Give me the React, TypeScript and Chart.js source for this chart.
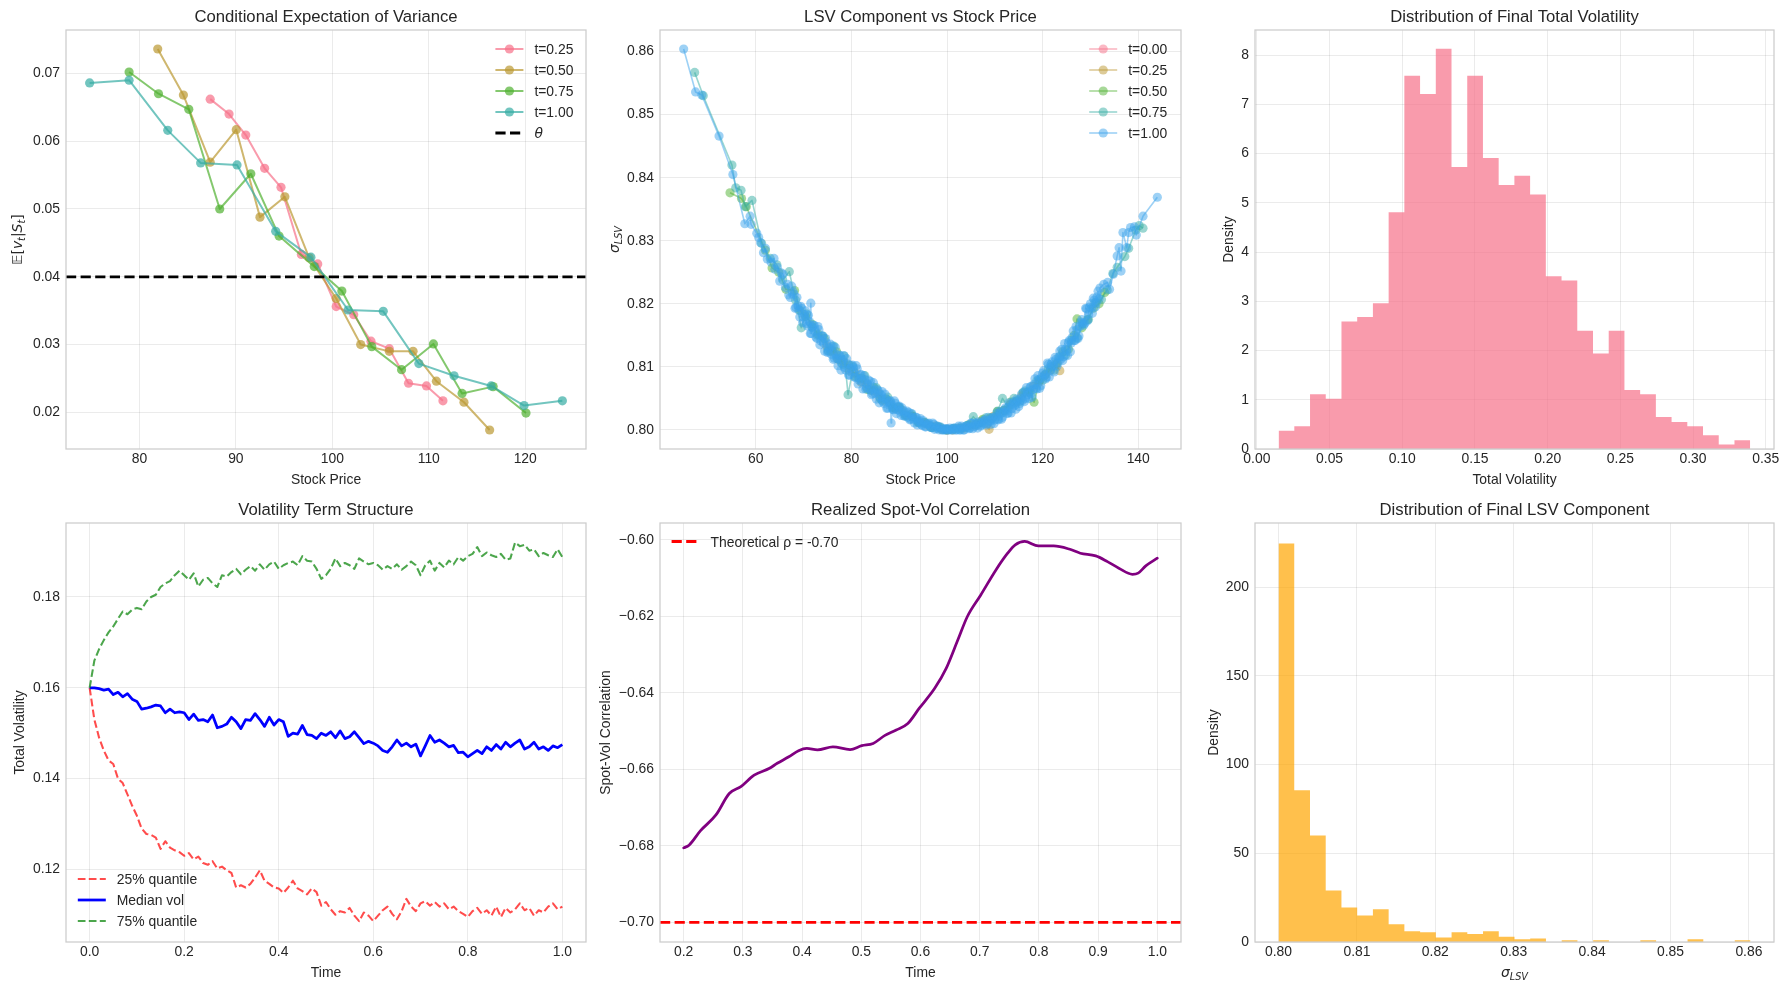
import React, { useEffect, useRef } from 'react';
import { Chart, registerables } from 'chart.js';

Chart.register(...registerables);

// ---------- shared styling ----------
const FONT = "'Liberation Sans', Arial, sans-serif";
const MATH_FONT = "'DejaVu Sans', sans-serif";
const TEXT = '#262626';
const GRID = 'rgba(0,0,0,0.08)';
const SPINE = '#cccccc';
const TICK_SIZE = 13.9;
const TITLE_SIZE = 16.7;
const PALETTE = ['#f77189', '#bb9832', '#50b131', '#36ada4', '#3ba3ec'];

// margins of every canvas around its plotting area
const ML = 66;
const MT = 30;
const MR = 14;
const MB = 46;

// ---------- Conditional expectation of variance: [stock price, E[v|S]] ----------
const COND_T025 = [[87.34, 0.0662], [89.29, 0.064], [91.03, 0.0609], [92.98, 0.056], [94.68, 0.0532], [96.79, 0.0433], [98.49, 0.0419], [100.4, 0.0356], [102.22, 0.0344], [104.01, 0.0305], [105.91, 0.0294], [107.9, 0.0243], [109.76, 0.0239], [111.47, 0.0217]];
const COND_T050 = [[81.9, 0.0736], [84.56, 0.0668], [87.34, 0.0569], [90.04, 0.0617], [92.5, 0.0488], [95.08, 0.0518], [97.6, 0.0428], [100.4, 0.0368], [102.94, 0.03], [105.91, 0.029], [108.37, 0.029], [110.79, 0.0246], [113.65, 0.0215], [116.31, 0.0174]];
const COND_T075 = [[78.93, 0.0702], [81.98, 0.067], [85.12, 0.0647], [88.33, 0.05], [91.55, 0.0552], [94.48, 0.046], [98.13, 0.0415], [100.99, 0.0379], [104.09, 0.0297], [107.18, 0.0263], [110.48, 0.0301], [113.45, 0.0228], [116.67, 0.0238], [120.08, 0.0199]];
const COND_T100 = [[74.84, 0.0686], [78.93, 0.069], [82.94, 0.0616], [86.35, 0.0568], [90.12, 0.0565], [94.13, 0.0467], [97.78, 0.0429], [101.63, 0.0351], [105.28, 0.0349], [108.97, 0.0272], [112.62, 0.0254], [116.47, 0.0239], [119.88, 0.021], [123.85, 0.0217]];
const COND_LABELS = ['t=0.25', 't=0.50', 't=0.75', 't=1.00'];
const THETA = 0.04;

// ---------- LSV component vs stock price: [stock price, sigma_LSV] ----------
const LSV_T000 = [[100.0, 0.8]];
const LSV_T025 = [[74.8, 0.8133], [76.0, 0.8125], [77.2, 0.8112], [78.4, 0.8107], [79.6, 0.8094], [80.8, 0.809], [82.0, 0.8076], [83.2, 0.8073], [84.4, 0.8062], [85.6, 0.8058], [86.8, 0.8047], [88.0, 0.8044], [89.2, 0.8034], [90.4, 0.8032], [91.6, 0.8023], [92.8, 0.8021], [94.0, 0.8013], [95.2, 0.8012], [96.4, 0.8006], [97.6, 0.8006], [98.8, 0.8001], [100.0, 0.8001], [101.2, 0.8], [102.4, 0.8003], [103.6, 0.8003], [104.8, 0.8008], [106.0, 0.8008], [107.2, 0.8014], [108.8, 0.8001], [109.6, 0.8021], [110.8, 0.8027], [112.0, 0.8031], [113.2, 0.804], [114.4, 0.8044], [115.6, 0.8054], [116.8, 0.806], [118.0, 0.8069], [119.2, 0.8076], [120.4, 0.8086], [121.6, 0.8095], [122.8, 0.8103], [123.6, 0.8094]];
const LSV_T050 = [[54.6, 0.8376], [57.0, 0.8367], [58.0, 0.8354], [62.0, 0.8285], [63.4, 0.8257], [64.8, 0.825], [66.3, 0.8223], [68.1, 0.8221], [69.2, 0.819], [70.4, 0.818], [71.7, 0.8168], [73.0, 0.8152], [74.3, 0.8145], [75.6, 0.8125], [76.9, 0.8124], [78.2, 0.8104], [79.5, 0.8103], [80.8, 0.8085], [82.1, 0.8082], [83.4, 0.8064], [84.7, 0.8067], [86.0, 0.805], [87.3, 0.8049], [88.6, 0.8036], [89.9, 0.8036], [91.3, 0.8024], [92.7, 0.8022], [94.1, 0.8012], [95.5, 0.8011], [97.0, 0.8004], [98.5, 0.8004], [100.0, 0.8], [101.5, 0.8002], [103.0, 0.8003], [104.5, 0.8008], [106.0, 0.8009], [107.5, 0.8017], [109.0, 0.8019], [110.5, 0.8029], [111.9, 0.8031], [113.3, 0.8044], [114.6, 0.8046], [115.9, 0.8059], [117.2, 0.806], [118.2, 0.8044], [119.4, 0.8079], [120.6, 0.8088], [121.8, 0.81], [123.0, 0.8106], [124.2, 0.8124], [125.4, 0.8128], [126.6, 0.815], [127.2, 0.8176], [128.2, 0.8162], [129.4, 0.8175], [130.6, 0.8193], [131.8, 0.82], [133.0, 0.8218]];
const LSV_T075 = [[47.2, 0.8567], [49.0, 0.853], [55.0, 0.842], [55.8, 0.8384], [56.9, 0.838], [57.8, 0.8354], [59.2, 0.8364], [61.2, 0.8296], [63.0, 0.8272], [64.4, 0.8262], [65.6, 0.8238], [67.0, 0.8251], [68.3, 0.8206], [69.5, 0.8162], [70.6, 0.8184], [71.8, 0.8163], [72.9, 0.815], [74.0, 0.8149], [75.1, 0.8126], [76.3, 0.8133], [77.4, 0.8112], [78.5, 0.8117], [79.3, 0.8056], [80.4, 0.81], [81.6, 0.8082], [82.8, 0.8086], [84.0, 0.8063], [85.2, 0.8067], [86.4, 0.8047], [87.6, 0.8052], [88.8, 0.8035], [90.0, 0.8036], [91.3, 0.8022], [92.6, 0.8025], [93.9, 0.8012], [95.3, 0.8012], [96.7, 0.8004], [98.2, 0.8005], [99.7, 0.8], [101.2, 0.8002], [102.7, 0.8002], [104.2, 0.8007], [105.5, 0.8021], [106.8, 0.8011], [108.1, 0.8019], [109.4, 0.8018], [110.6, 0.803], [111.6, 0.805], [112.8, 0.8036], [114.0, 0.805], [115.2, 0.8045], [116.4, 0.8062], [117.6, 0.8058], [118.8, 0.8078], [120.0, 0.8079], [121.2, 0.8097], [122.4, 0.8095], [123.6, 0.8116], [124.8, 0.8119], [126.0, 0.8142], [127.2, 0.8146], [128.4, 0.8168], [129.6, 0.8175], [131.0, 0.8202], [132.3, 0.8207], [133.5, 0.8222], [134.7, 0.8248], [135.6, 0.8258], [137.2, 0.8275], [138.0, 0.8288], [139.5, 0.8317], [140.2, 0.8324], [141.0, 0.832]];
// t=1.00 samples, first set
const LSV_T100_A = [
  [44.9, 0.8604], [47.4, 0.8536], [48.7, 0.8531], [52.3, 0.8466], [55.2, 0.8405], [57.7, 0.8327], [58.8, 0.8339], [59.0, 0.8326],
  [60.2, 0.8312], [60.6, 0.8305], [61.0, 0.8297], [61.6, 0.8281], [62.0, 0.8288], [62.4, 0.8271], [63.2, 0.8266], [63.8, 0.8272],
  [64.0, 0.8255], [64.5, 0.8258], [65.0, 0.8236], [65.3, 0.8249], [65.7, 0.8247], [66.2, 0.8226], [66.6, 0.8231], [66.9, 0.8214],
  [67.2, 0.821], [67.5, 0.8228], [67.8, 0.8219],
  [68.0, 0.8215], [68.4, 0.8194], [68.8, 0.8197], [69.2, 0.8179], [69.6, 0.8193], [70.0, 0.8179], [70.4, 0.8189], [70.8, 0.8165],
  [71.2, 0.8172], [71.5, 0.8201], [71.6, 0.8153], [72.0, 0.8166], [72.4, 0.8156], [72.8, 0.8145], [73.2, 0.8159], [73.6, 0.8141],
  [74.0, 0.8149], [74.4, 0.8125], [74.8, 0.8138], [75.2, 0.8124], [75.6, 0.8136], [76.0, 0.8133], [76.4, 0.8114], [76.8, 0.8119],
  [77.2, 0.8102], [77.6, 0.8118], [78.0, 0.8106], [78.4, 0.8118], [78.8, 0.8095], [79.2, 0.8105], [79.6, 0.8087], [80.0, 0.8102],
  [80.4, 0.8093], [80.8, 0.8083], [81.2, 0.8097], [81.6, 0.8079], [82.0, 0.8088], [82.4, 0.8065], [82.8, 0.808], [83.2, 0.8067],
  [83.6, 0.8079], [84.0, 0.8077], [84.4, 0.8058], [84.8, 0.8063], [85.2, 0.8049], [85.6, 0.8062], [86.0, 0.8052], [86.4, 0.8061],
  [86.8, 0.8042], [87.2, 0.8049], [87.6, 0.8035], [88.0, 0.8046], [88.3, 0.8011], [88.4, 0.8039], [88.8, 0.8032], [89.2, 0.8042],
  [89.6, 0.8032], [90.0, 0.8038], [90.4, 0.8023], [90.8, 0.8031], [91.2, 0.8023], [91.6, 0.803], [92.0, 0.8028], [92.4, 0.8017],
  [92.8, 0.802], [93.2, 0.8011], [93.6, 0.802], [94.0, 0.8013], [94.4, 0.8018], [94.8, 0.8007], [95.2, 0.8011], [95.6, 0.8005],
  [96.0, 0.801], [96.4, 0.8007], [96.8, 0.8004], [97.2, 0.8009], [97.6, 0.8003], [98.0, 0.8006], [98.4, 0.8], [98.8, 0.8003],
  [99.2, 0.8], [99.6, 0.8002], [100.0, 0.8002], [100.4, 0.8], [100.8, 0.8001], [101.2, 0.8], [101.6, 0.8003], [102.0, 0.8],
  [102.4, 0.8006], [102.8, 0.8], [103.2, 0.8004], [103.6, 0.8], [104.0, 0.8006], [104.4, 0.8004], [104.8, 0.8003], [105.2, 0.8011],
  [105.6, 0.8005], [106.0, 0.8011], [106.4, 0.8003], [106.8, 0.8011], [107.2, 0.8008], [107.6, 0.8015], [108.0, 0.8016], [108.4, 0.801],
  [108.8, 0.8015], [109.2, 0.8009], [109.6, 0.802], [110.0, 0.8016], [110.4, 0.8026], [110.8, 0.8016], [111.2, 0.8026], [111.6, 0.802],
  [112.0, 0.8032], [112.4, 0.803], [112.8, 0.8027], [113.2, 0.8041], [113.6, 0.8034], [114.0, 0.8045], [114.4, 0.8033], [114.8, 0.8046],
  [115.2, 0.8042], [115.6, 0.8057], [116.0, 0.806], [116.4, 0.805], [116.8, 0.8059], [117.2, 0.805], [117.6, 0.8069], [118.0, 0.8064],
  [118.4, 0.8081], [118.8, 0.8065], [119.2, 0.808], [119.6, 0.807], [120.0, 0.809], [120.4, 0.8087], [120.8, 0.8083], [121.2, 0.8104],
  [121.6, 0.8094], [122.0, 0.8108], [122.4, 0.8092], [122.8, 0.8112], [123.2, 0.8106], [123.6, 0.8125], [124.0, 0.8128], [124.4, 0.8116],
  [124.8, 0.8128], [125.2, 0.8118], [125.6, 0.8142], [126.0, 0.8138], [126.4, 0.8157], [126.8, 0.8142], [127.2, 0.8159], [127.6, 0.8149],
  [128.0, 0.8171], [128.4, 0.817], [128.8, 0.8169], [129.2, 0.8192], [129.6, 0.8183], [130.0, 0.82], [130.4, 0.8185], [130.8, 0.8206],
  [131.2, 0.8201], [131.6, 0.822], [132.0, 0.8225],
  [132.8, 0.8231], [133.6, 0.8234], [134.0, 0.8223], [134.8, 0.8247], [135.6, 0.8276], [136.0, 0.8289], [136.4, 0.8252], [136.8, 0.8313],
  [137.6, 0.8289], [138.0, 0.8313], [138.4, 0.8321], [139.2, 0.8322], [139.6, 0.8309], [141.0, 0.8339], [144.0, 0.8369],
];
// t=1.00 samples, second set (in between the first)
const LSV_T100_B = [
  [68.2, 0.8193], [68.6, 0.821], [69.0, 0.819], [69.4, 0.8196], [69.8, 0.817], [70.2, 0.8183], [70.6, 0.8169], [71.0, 0.8182],
  [71.4, 0.8153], [71.8, 0.8163], [72.2, 0.8166], [72.6, 0.8147], [73.0, 0.8164], [73.4, 0.8135], [73.8, 0.8149], [74.2, 0.8138],
  [74.6, 0.8145], [75.0, 0.8123], [75.4, 0.813], [75.8, 0.812], [76.2, 0.8112], [76.6, 0.8131], [77.0, 0.8113], [77.4, 0.8119],
  [77.8, 0.8095], [78.2, 0.8111], [78.6, 0.8099], [79.0, 0.8113], [79.4, 0.8087], [79.8, 0.8098], [80.2, 0.8103], [80.6, 0.8084],
  [81.0, 0.8102], [81.4, 0.8073], [81.8, 0.8087], [82.2, 0.8077], [82.6, 0.8086], [83.0, 0.8065], [83.4, 0.8073], [83.8, 0.8064],
  [84.2, 0.8056], [84.6, 0.8075], [85.0, 0.8058], [85.4, 0.8064], [85.8, 0.8043], [86.2, 0.8056], [86.6, 0.8045], [87.0, 0.8057],
  [87.4, 0.8034], [87.8, 0.8044], [88.2, 0.8046], [88.6, 0.8033], [89.0, 0.8046], [89.4, 0.8026], [89.8, 0.8037], [90.2, 0.803],
  [90.6, 0.8035], [91.0, 0.8022], [91.4, 0.8027], [91.8, 0.802], [92.2, 0.8016], [92.6, 0.8026], [93.0, 0.8017], [93.4, 0.802],
  [93.8, 0.8008], [94.2, 0.8015], [94.6, 0.8009], [95.0, 0.8015], [95.4, 0.8005], [95.8, 0.8009], [96.2, 0.8011], [96.6, 0.8004],
  [97.0, 0.8011], [97.4, 0.8001], [97.8, 0.8006], [98.2, 0.8002], [98.6, 0.8005], [99.0, 0.8], [99.4, 0.8001], [99.8, 0.8],
  [100.2, 0.8], [100.6, 0.8003], [101.0, 0.8], [101.4, 0.8003], [101.8, 0.8], [102.2, 0.8003], [102.6, 0.8], [103.0, 0.8006],
  [103.4, 0.8], [103.8, 0.8004], [104.2, 0.8007], [104.6, 0.8002], [105.0, 0.8011], [105.4, 0.8002], [105.8, 0.8009], [106.2, 0.8007],
  [106.6, 0.8013], [107.0, 0.8006], [107.4, 0.8012], [107.8, 0.801], [108.2, 0.8008], [108.6, 0.802], [109.0, 0.8013], [109.4, 0.8019],
  [109.8, 0.801], [110.2, 0.8021], [110.6, 0.8017], [111.0, 0.8029], [111.4, 0.8017], [111.8, 0.8028], [112.2, 0.8035], [112.6, 0.8026],
  [113.0, 0.8043], [113.4, 0.8027], [113.8, 0.8041], [114.2, 0.8039], [114.6, 0.8049], [115.0, 0.8037], [115.4, 0.805], [115.8, 0.8047],
  [116.2, 0.8045], [116.6, 0.8067], [117.0, 0.8056], [117.4, 0.8068], [117.8, 0.8052], [118.2, 0.8072], [118.6, 0.8066], [119.0, 0.8086],
  [119.4, 0.8066], [119.8, 0.8083], [120.2, 0.8094], [120.6, 0.8081], [121.0, 0.8106], [121.4, 0.8084], [121.8, 0.8104], [122.2, 0.8101],
  [122.6, 0.8115], [123.0, 0.8101], [123.4, 0.8116], [123.8, 0.8112], [124.2, 0.811], [124.6, 0.8137], [125.0, 0.8125], [125.4, 0.8139],
  [125.8, 0.8124], [126.2, 0.8147], [126.6, 0.8142], [127.0, 0.8164], [127.4, 0.8145], [127.8, 0.8164], [128.2, 0.8175], [128.6, 0.8166],
  [129.0, 0.8193], [129.4, 0.8173], [129.8, 0.8195], [130.2, 0.8193], [130.6, 0.8209], [131.0, 0.8195], [131.4, 0.8211], [131.8, 0.8208],
];
const LSV_LABELS = ['t=0.00', 't=0.25', 't=0.50', 't=0.75', 't=1.00'];

// ---------- Final total volatility histogram (density) ----------
const TOTVOL_BIN_START = 0.01493;
const TOTVOL_BIN_WIDTH = 0.010813;
const TOTVOL_DENSITY = [0.37, 0.46, 1.11, 1.02, 2.59, 2.68, 2.96, 4.81, 7.58, 7.21, 8.13, 5.73, 7.58, 5.91, 5.36, 5.55, 5.17, 3.51, 3.42, 2.4, 1.94, 2.4, 1.2, 1.11, 0.65, 0.55, 0.46, 0.28, 0.09, 0.18];

// ---------- Volatility term structure (time grid step 0.01) ----------
const TERM_TIME = Array.from({ length: 101 }, (_, i) => i / 100);
const Q25_VOL = [0.16, 0.153, 0.149, 0.1462, 0.144, 0.1432, 0.14, 0.139, 0.1365, 0.134, 0.1318, 0.129, 0.1278, 0.1276, 0.127, 0.1245, 0.1262, 0.1248, 0.1242, 0.1238, 0.123, 0.1236, 0.1222, 0.1228, 0.1214, 0.121, 0.1218, 0.1202, 0.1206, 0.1198, 0.1192, 0.116, 0.1165, 0.116, 0.1168, 0.1182, 0.1198, 0.1175, 0.1168, 0.116, 0.1158, 0.1148, 0.116, 0.1175, 0.1158, 0.1152, 0.1145, 0.1158, 0.115, 0.112, 0.1128, 0.1112, 0.11, 0.1108, 0.1105, 0.1115, 0.1098, 0.1086, 0.1105, 0.1098, 0.1086, 0.1098, 0.111, 0.1118, 0.1102, 0.109, 0.1108, 0.1135, 0.1118, 0.1108, 0.1125, 0.113, 0.112, 0.1128, 0.1118, 0.1125, 0.1112, 0.1118, 0.1108, 0.1102, 0.1095, 0.1108, 0.1115, 0.1102, 0.111, 0.1098, 0.1118, 0.1095, 0.1115, 0.1105, 0.1112, 0.1125, 0.111, 0.1115, 0.1098, 0.111, 0.1105, 0.1118, 0.1125, 0.1112, 0.1118];
const MEDIAN_VOL = [0.16, 0.16, 0.1598, 0.1595, 0.1597, 0.1585, 0.159, 0.158, 0.1587, 0.1575, 0.157, 0.1553, 0.1555, 0.1558, 0.1562, 0.156, 0.1545, 0.1553, 0.1545, 0.1547, 0.1545, 0.153, 0.1542, 0.1528, 0.153, 0.1525, 0.154, 0.1512, 0.1515, 0.152, 0.1535, 0.1525, 0.151, 0.153, 0.1528, 0.1543, 0.153, 0.1515, 0.1535, 0.1518, 0.153, 0.1525, 0.1493, 0.15, 0.1498, 0.1517, 0.1497, 0.1495, 0.1488, 0.15, 0.1495, 0.1503, 0.149, 0.1505, 0.1488, 0.1492, 0.1503, 0.149, 0.1477, 0.1482, 0.1478, 0.1472, 0.1462, 0.1458, 0.147, 0.1485, 0.1472, 0.1478, 0.147, 0.1476, 0.145, 0.1472, 0.1495, 0.148, 0.1485, 0.1478, 0.147, 0.1473, 0.1457, 0.1458, 0.1448, 0.1455, 0.1462, 0.1455, 0.147, 0.1462, 0.1475, 0.1465, 0.148, 0.147, 0.1478, 0.1485, 0.1465, 0.147, 0.148, 0.1465, 0.147, 0.1462, 0.1472, 0.1468, 0.1475];
const Q75_VOL = [0.16, 0.166, 0.1685, 0.1705, 0.1722, 0.1735, 0.1752, 0.1768, 0.1762, 0.1772, 0.1776, 0.1773, 0.179, 0.18, 0.1805, 0.1822, 0.183, 0.1835, 0.1848, 0.1858, 0.1848, 0.1838, 0.1852, 0.1823, 0.1838, 0.1842, 0.183, 0.1822, 0.1848, 0.1845, 0.1855, 0.1862, 0.185, 0.186, 0.1868, 0.1858, 0.1872, 0.186, 0.1872, 0.1878, 0.1862, 0.187, 0.1875, 0.1878, 0.187, 0.189, 0.188, 0.1878, 0.1862, 0.184, 0.1848, 0.1862, 0.1885, 0.1868, 0.1875, 0.187, 0.1862, 0.1885, 0.1878, 0.1872, 0.1875, 0.187, 0.186, 0.1868, 0.1862, 0.1872, 0.186, 0.1868, 0.1878, 0.187, 0.1848, 0.187, 0.188, 0.1858, 0.1875, 0.1865, 0.188, 0.1872, 0.1888, 0.188, 0.189, 0.1895, 0.191, 0.189, 0.1898, 0.1892, 0.1888, 0.1895, 0.1882, 0.1885, 0.192, 0.1912, 0.1915, 0.1902, 0.1905, 0.189, 0.1897, 0.1892, 0.1888, 0.1905, 0.1888];

// ---------- Realized spot-vol correlation ----------
const CORR_TIME = [0.2, 0.209, 0.2285, 0.2545, 0.277, 0.2966, 0.319, 0.345, 0.358, 0.3776, 0.394, 0.408, 0.426, 0.452, 0.481, 0.5008, 0.52, 0.54, 0.559, 0.5786, 0.598, 0.624, 0.6434, 0.663, 0.679, 0.7018, 0.7277, 0.7472, 0.76, 0.776, 0.799, 0.825, 0.851, 0.87, 0.896, 0.9157, 0.935, 0.958, 0.9676, 0.9805, 1.0];
const CORR_VALUE = [-0.6805, -0.6798, -0.676, -0.6719, -0.6663, -0.6645, -0.6615, -0.6597, -0.6584, -0.6567, -0.6551, -0.6545, -0.6549, -0.6541, -0.6548, -0.6538, -0.6532, -0.6511, -0.6497, -0.648, -0.644, -0.6388, -0.6336, -0.6262, -0.6201, -0.6144, -0.6078, -0.6035, -0.6013, -0.6004, -0.6016, -0.6016, -0.6024, -0.6035, -0.6042, -0.6057, -0.6074, -0.609, -0.6087, -0.6068, -0.6048];
const RHO_THEORETICAL = -0.7;

// ---------- Final LSV component histogram (density) ----------
const LSV_BIN_START = 0.8;
const LSV_BIN_WIDTH = 0.0020067;
const LSV_DENSITY = [224.5, 85.5, 60.0, 29.0, 19.5, 15.0, 18.5, 10.0, 6.0, 5.5, 2.5, 5.5, 4.5, 6.0, 3.0, 1.5, 2.0, 0, 1.0, 0, 1.0, 0, 0, 1.0, 0, 0, 1.5, 0, 0, 1.0];

// ---------- axis ticks ----------
const P1_XTICKS = [80, 90, 100, 110, 120];
const P1_YTICKS = [0.02, 0.03, 0.04, 0.05, 0.06, 0.07];
const P2_XTICKS = [60, 80, 100, 120, 140];
const P2_YTICKS = [0.8, 0.81, 0.82, 0.83, 0.84, 0.85, 0.86];
const P3_XTICKS = [0, 0.05, 0.1, 0.15, 0.2, 0.25, 0.3, 0.35];
const P3_YTICKS = [0, 1, 2, 3, 4, 5, 6, 7, 8];
const P4_XTICKS = [0, 0.2, 0.4, 0.6, 0.8, 1.0];
const P4_YTICKS = [0.12, 0.14, 0.16, 0.18];
const P5_XTICKS = [0.2, 0.3, 0.4, 0.5, 0.6, 0.7, 0.8, 0.9, 1.0];
const P5_YTICKS = [-0.7, -0.68, -0.66, -0.64, -0.62, -0.6];
const P6_XTICKS = [0.8, 0.81, 0.82, 0.83, 0.84, 0.85, 0.86];
const P6_YTICKS = [0, 50, 100, 150, 200];

// ---------- helpers ----------
type Part = { t: string; it?: boolean; sub?: boolean; math?: boolean };
type LegendEntry = { label: Part[]; color: string; width: number; dash?: number[]; marker?: number };
type Decor = {
  title: string;
  xTitle: Part[];
  yTitle: Part[];
  yTitleDx: number;
  legend?: { corner: 'tl' | 'tr' | 'bl'; dx: number; dy: number; items: LegendEntry[] };
};
type AxisSpec = { min: number; max: number; ticks: number[]; labels: string[] };
type PanelSpec = { box: { l: number; t: number; r: number; b: number }; datasets: any[]; x: AxisSpec; y: AxisSpec; decor: Decor };

function rgba(hex: string, a: number) {
  const n = parseInt(hex.slice(1), 16);
  return `rgba(${(n >> 16) & 255},${(n >> 8) & 255},${n & 255},${a})`;
}

const fmt = (digits: number, minus = false) => (v: number) => {
  const s = Math.abs(v).toFixed(digits);
  return v < 0 ? (minus ? '\u2212' : '-') + s : s;
};

function partFont(p: Part, size: number) {
  const s = p.sub ? size * 0.7 : size;
  return `${p.it ? 'italic ' : ''}${s}px ${p.math ? MATH_FONT : FONT}`;
}

function drawParts(ctx: CanvasRenderingContext2D, parts: Part[], x: number, y: number, size: number, align: 'left' | 'center', rot = 0) {
  ctx.save();
  ctx.translate(x, y);
  if (rot) ctx.rotate(rot);
  ctx.fillStyle = TEXT;
  ctx.textAlign = 'left';
  ctx.textBaseline = 'alphabetic';
  const widths = parts.map((p) => {
    ctx.font = partFont(p, size);
    return ctx.measureText(p.t).width;
  });
  const total = widths.reduce((a, b) => a + b, 0);
  let cx = align === 'center' ? -total / 2 : 0;
  const base = size * 0.36;
  parts.forEach((p, i) => {
    ctx.font = partFont(p, size);
    ctx.fillText(p.t, cx, base + (p.sub ? size * 0.22 : 0));
    cx += widths[i];
  });
  ctx.restore();
}

function decorPlugin(d: Decor) {
  return {
    id: 'panelDecor',
    afterDraw(chart: any) {
      const ctx: CanvasRenderingContext2D = chart.ctx;
      const a = chart.chartArea;
      // frame
      ctx.save();
      ctx.strokeStyle = SPINE;
      ctx.lineWidth = 1.25;
      ctx.strokeRect(a.left, a.top, a.right - a.left, a.bottom - a.top);
      ctx.restore();
      // titles
      const cx = (a.left + a.right) / 2;
      const cy = (a.top + a.bottom) / 2;
      drawParts(ctx, [{ t: d.title }], cx, a.top - 14, TITLE_SIZE, 'center');
      drawParts(ctx, d.xTitle, cx, a.bottom + 29.5, TICK_SIZE, 'center');
      drawParts(ctx, d.yTitle, a.left + d.yTitleDx, cy, TICK_SIZE, 'center', -Math.PI / 2);
      // legend
      if (d.legend) {
        const lg = d.legend;
        const step = 21;
        const n = lg.items.length;
        let x0 = a.left + lg.dx;
        let y0 = a.top + lg.dy;
        if (lg.corner === 'tr') x0 = a.right - lg.dx;
        if (lg.corner === 'bl') y0 = a.bottom - lg.dy - (n - 1) * step;
        lg.items.forEach((it, i) => {
          const y = y0 + i * step;
          ctx.save();
          ctx.strokeStyle = it.color;
          ctx.lineWidth = it.width;
          ctx.setLineDash(it.dash || []);
          ctx.lineCap = 'butt';
          ctx.beginPath();
          ctx.moveTo(x0, y);
          ctx.lineTo(x0 + 28, y);
          ctx.stroke();
          if (it.marker) {
            ctx.fillStyle = it.color;
            ctx.beginPath();
            ctx.arc(x0 + 14, y, it.marker, 0, Math.PI * 2);
            ctx.fill();
          }
          ctx.restore();
          drawParts(ctx, it.label, x0 + 39, y, TICK_SIZE, 'left');
        });
      }
    },
  };
}

function makeAxis(pos: 'bottom' | 'left', a: AxisSpec) {
  return {
    type: 'linear',
    position: pos,
    min: a.min,
    max: a.max,
    grid: { color: GRID, lineWidth: 1, drawTicks: false },
    border: { display: false },
    ticks: {
      autoSkip: false,
      maxRotation: 0,
      minRotation: 0,
      padding: pos === 'left' ? 6 : 2,
      color: TEXT,
      font: { family: FONT, size: TICK_SIZE },
      callback: (v: number) => {
        const i = a.ticks.indexOf(v);
        return i >= 0 ? a.labels[i] : '';
      },
    },
    afterBuildTicks: (s: any) => {
      s.ticks = a.ticks.map((v) => ({ value: v }));
    },
    afterFit: (s: any) => {
      if (pos === 'left') s.width = ML;
      else s.height = MB;
      s.paddingLeft = 0;
      s.paddingRight = 0;
      s.paddingTop = 0;
      s.paddingBottom = 0;
    },
  };
}

function axisSpec(min: number, max: number, ticks: number[], f: (v: number) => string): AxisSpec {
  return { min, max, ticks, labels: ticks.map(f) };
}

function markerLine(pts: number[][], color: string, width: number, radius: number, order: number) {
  return {
    data: pts.map(([x, y]) => ({ x, y })),
    borderColor: color,
    backgroundColor: color,
    pointBackgroundColor: color,
    borderWidth: width,
    pointRadius: radius,
    pointBorderWidth: 0,
    pointHoverRadius: radius,
    borderJoinStyle: 'round',
    tension: 0,
    fill: false,
    order,
  };
}

function plainLine(xs: number[], ys: number[], color: string, width: number, dash: number[] | undefined, order: number, extra: any = {}) {
  return {
    data: xs.map((x, i) => ({ x, y: ys[i] })),
    borderColor: color,
    borderWidth: width,
    borderDash: dash || [],
    borderJoinStyle: 'round',
    pointRadius: 0,
    pointHoverRadius: 0,
    tension: 0,
    fill: false,
    order,
    ...extra,
  };
}

// density histogram as a filled step outline: each bin is flat from its left edge to the next edge
function histogram(start: number, width: number, dens: number[], color: string) {
  const pts = dens.map((d, i) => ({ x: start + i * width, y: d }));
  pts.push({ x: start + dens.length * width, y: dens[dens.length - 1] });
  return {
    data: pts,
    stepped: 'before',
    fill: 'origin',
    backgroundColor: color,
    borderColor: 'rgba(0,0,0,0)',
    borderWidth: 1,
    pointRadius: 0,
    pointHoverRadius: 0,
  };
}

// ---------- panels ----------
const P1_X = axisSpec(72.39, 126.3, P1_XTICKS, (v) => String(v));
const P2_X = axisSpec(39.95, 148.95, P2_XTICKS, (v) => String(v));
const P4_X = axisSpec(-0.05, 1.05, P4_XTICKS, fmt(1));
const P5_X = axisSpec(0.16, 1.04, P5_XTICKS, fmt(1));

const COND_SERIES = [COND_T025, COND_T050, COND_T075, COND_T100];
// the t=1.00 slice is plotted sorted by stock price, like the others
const LSV_T100 = [...LSV_T100_A, ...LSV_T100_B].sort((p, q) => p[0] - q[0]);
const LSV_SERIES = [LSV_T000, LSV_T025, LSV_T050, LSV_T075, LSV_T100];

const LSV_SUB: Part[] = [
  { t: '\u03C3', it: true, math: true },
  { t: 'LSV', it: true, sub: true, math: true },
];

const PANELS: PanelSpec[] = [
  {
    box: { l: 66, t: 30, r: 586, b: 449 },
    x: P1_X,
    y: axisSpec(0.0146, 0.0764, P1_YTICKS, fmt(2)),
    datasets: [
      ...COND_SERIES.map((s, i) => markerLine(s, rgba(PALETTE[i], 0.7), 2, 4.6, 10 - i)),
      plainLine([P1_X.min, P1_X.max], [THETA, THETA], '#000000', 2.76, [10.2, 4.4], 0),
    ],
    decor: {
      title: 'Conditional Expectation of Variance',
      xTitle: [{ t: 'Stock Price' }],
      yTitle: [
        { t: '\u{1D53C}', math: true },
        { t: '[', math: true },
        { t: 'v', it: true, math: true },
        { t: 't', it: true, sub: true, math: true },
        { t: '|', math: true },
        { t: 'S', it: true, math: true },
        { t: 't', it: true, sub: true, math: true },
        { t: ']', math: true },
      ],
      yTitleDx: -49,
      legend: {
        corner: 'tr',
        dx: 90.6,
        dy: 19,
        items: [
          ...COND_LABELS.map((lab, i) => ({ label: [{ t: lab }], color: rgba(PALETTE[i], 0.7), width: 2, marker: 4.6 })),
          { label: [{ t: '\u03B8', it: true, math: true }], color: '#000000', width: 2.76, dash: [10.2, 4.4] },
        ],
      },
    },
  },
  {
    box: { l: 660, t: 30, r: 1181, b: 449 },
    x: P2_X,
    y: axisSpec(0.79698, 0.86342, P2_YTICKS, fmt(2)),
    datasets: LSV_SERIES.map((s, i) => markerLine(s, rgba(PALETTE[i], 0.5), 1.6, 4.6, 10 - i)),
    decor: {
      title: 'LSV Component vs Stock Price',
      xTitle: [{ t: 'Stock Price' }],
      yTitle: LSV_SUB,
      yTitleDx: -46,
      legend: {
        corner: 'tr',
        dx: 91.8,
        dy: 19,
        items: LSV_LABELS.map((lab, i) => ({ label: [{ t: lab }], color: rgba(PALETTE[i], 0.5), width: 1.6, marker: 4.6 })),
      },
    },
  },
  {
    box: { l: 1255, t: 30, r: 1774, b: 449 },
    x: axisSpec(-0.0013, 0.3557, P3_XTICKS, fmt(2)),
    y: axisSpec(0, 8.51, P3_YTICKS, (v) => String(v)),
    datasets: [histogram(TOTVOL_BIN_START, TOTVOL_BIN_WIDTH, TOTVOL_DENSITY, rgba(PALETTE[0], 0.7))],
    decor: {
      title: 'Distribution of Final Total Volatility',
      xTitle: [{ t: 'Total Volatility' }],
      yTitle: [{ t: 'Density' }],
      yTitleDx: -26.6,
    },
  },
  {
    box: { l: 66, t: 523, r: 586, b: 942 },
    x: P4_X,
    y: axisSpec(0.104, 0.1963, P4_YTICKS, fmt(2)),
    datasets: [
      plainLine(TERM_TIME, Q25_VOL, 'rgba(255,0,0,0.7)', 2.07, [7.7, 3.3], 3),
      plainLine(TERM_TIME, MEDIAN_VOL, '#0000ff', 2.76, undefined, 2),
      plainLine(TERM_TIME, Q75_VOL, 'rgba(0,128,0,0.7)', 2.07, [7.7, 3.3], 1),
    ],
    decor: {
      title: 'Volatility Term Structure',
      xTitle: [{ t: 'Time' }],
      yTitle: [{ t: 'Total Volatility' }],
      yTitleDx: -47,
      legend: {
        corner: 'bl',
        dx: 11.8,
        dy: 21,
        items: [
          { label: [{ t: '25% quantile' }], color: 'rgba(255,0,0,0.7)', width: 2.07, dash: [7.7, 3.3] },
          { label: [{ t: 'Median vol' }], color: '#0000ff', width: 2.76 },
          { label: [{ t: '75% quantile' }], color: 'rgba(0,128,0,0.7)', width: 2.07, dash: [7.7, 3.3] },
        ],
      },
    },
  },
  {
    box: { l: 660, t: 523, r: 1181, b: 942 },
    x: P5_X,
    y: axisSpec(-0.7051, -0.5956, P5_YTICKS, fmt(2, true)),
    datasets: [
      plainLine(CORR_TIME, CORR_VALUE, '#800080', 2.76, undefined, 2, { cubicInterpolationMode: 'monotone', borderCapStyle: 'round' }),
      plainLine([P5_X.min, P5_X.max], [RHO_THEORETICAL, RHO_THEORETICAL], '#ff0000', 2.76, [10.2, 4.4], 1),
    ],
    decor: {
      title: 'Realized Spot-Vol Correlation',
      xTitle: [{ t: 'Time' }],
      yTitle: [{ t: 'Spot-Vol Correlation' }],
      yTitleDx: -55,
      legend: {
        corner: 'tl',
        dx: 11.6,
        dy: 18.5,
        items: [{ label: [{ t: 'Theoretical \u03C1 = -0.70' }], color: '#ff0000', width: 2.76, dash: [10.2, 4.4] }],
      },
    },
  },
  {
    box: { l: 1255, t: 523, r: 1774, b: 942 },
    x: axisSpec(0.797, 0.8632, P6_XTICKS, fmt(2)),
    y: axisSpec(0, 236.1, P6_YTICKS, (v) => String(v)),
    datasets: [histogram(LSV_BIN_START, LSV_BIN_WIDTH, LSV_DENSITY, 'rgba(255,165,0,0.7)')],
    decor: {
      title: 'Distribution of Final LSV Component',
      xTitle: LSV_SUB,
      yTitle: [{ t: 'Density' }],
      yTitleDx: -42,
    },
  },
];

function Panel({ spec }: { spec: PanelSpec }) {
  const ref = useRef<HTMLCanvasElement>(null);
  const { l, t, r, b } = spec.box;
  const w = r - l + ML + MR;
  const h = b - t + MT + MB;

  useEffect(() => {
    const canvas = ref.current;
    if (!canvas) return;
    const chart = new Chart(canvas, {
      type: 'line',
      data: { datasets: spec.datasets },
      options: {
        responsive: false,
        animation: false,
        devicePixelRatio: 1,
        events: [],
        layout: { padding: { left: 0, top: MT, right: MR, bottom: 0 } },
        plugins: {
          legend: { display: false },
          tooltip: { enabled: false },
          title: { display: false },
        },
        scales: {
          x: makeAxis('bottom', spec.x),
          y: makeAxis('left', spec.y),
        },
      } as any,
      plugins: [decorPlugin(spec.decor)],
    });
    return () => chart.destroy();
  }, [spec]);

  return (
    <canvas
      ref={ref}
      width={w}
      height={h}
      style={{ position: 'absolute', left: l - ML, top: t - MT, width: w, height: h }}
    />
  );
}

export default function App() {
  return (
    <div style={{ position: 'fixed', left: 0, top: 0, width: 1788, height: 990, background: '#ffffff', overflow: 'hidden' }}>
      {PANELS.map((p, i) => (
        <Panel key={i} spec={p} />
      ))}
    </div>
  );
}
